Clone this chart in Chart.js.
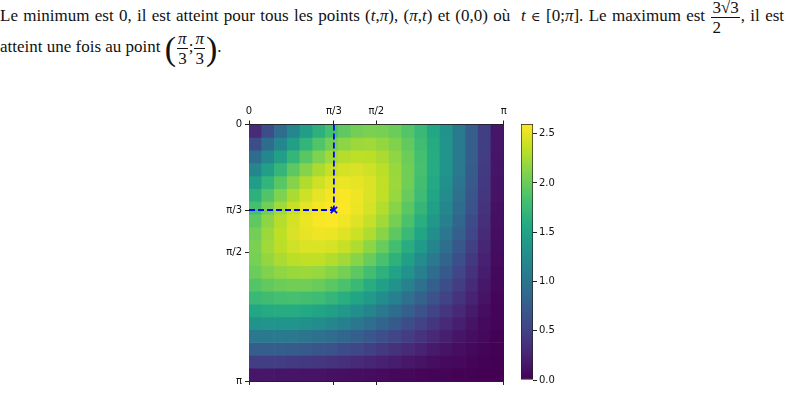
<!DOCTYPE html>
<html>
<head>
<meta charset="utf-8">
<script src="https://cdn.jsdelivr.net/npm/chart.js@4.4.1/dist/chart.umd.min.js"></script>
<style>
  body { margin: 0; background: #fff; width: 785px; height: 411px; overflow: hidden; position: relative;
         font-family: 'Liberation Serif', serif; color: #111; }
  .line { position: absolute; left: 0; font-size: 17px; line-height: 20px; }
  #l1 { top: 0px; width: 784px; text-align: justify; text-align-last: justify; word-spacing: -2px; }
  #l2 { top: 31px; white-space: nowrap; }
  .frac { display: inline-block; vertical-align: middle; text-align: center; line-height: 15px; margin: 0 1px; word-spacing: 0; }
  .frac > span { display: block; padding: 0 1px; }
  .frac > .num { border-bottom: 1px solid #111; padding-bottom: 2px; }
  .frac > .den { padding-top: 2px; }
  .sq { border-top: 1px solid #111; }
  .el { font-family: 'DejaVu Serif'; font-size: 13px; }
  .par { font-size: 34px; vertical-align: middle; font-weight: 100; }
  canvas { position: absolute; }
  #heat { left: 180px; top: 90px; }
  #cbar { left: 505px; top: 110px; }
</style>
</head>
<body>
<div class="line" id="l1">Le minimum est 0, il est atteint pour tous les points (<i>t</i>,<i>π</i>), (<i>π</i>,<i>t</i>) et (0,0) où &nbsp;<i>t</i> <span class="el">∈</span> [0;<i>π</i>]. Le maximum est <span class="frac"><span class="num">3√<span class="sq">3</span></span><span class="den">2</span></span>, il est</div>
<div class="line" id="l2">atteint une fois au point <span class="par">(</span><span class="frac"><span class="num"><i>π</i></span><span class="den">3</span></span>;<span class="frac"><span class="num"><i>π</i></span><span class="den">3</span></span><span class="par">)</span>.</div>
<canvas id="heat" width="330" height="300"></canvas>
<canvas id="cbar" width="80" height="285"></canvas>
<script>
// values of the surface, rows = y from 0 to pi, columns = x from 0 to pi
const N = 20;
const tickValues = [0, Math.PI / 3, Math.PI / 2, Math.PI];
const tickLabels = ['0', 'π/3', 'π/2', 'π'];
const cbTicks = [0, 0.5, 1, 1.5, 2, 2.5];
const zMax = 3 * Math.sqrt(3) / 2;
const maxPoint = [Math.PI / 3, Math.PI / 3];

const z = [
  [0.31,0.62,0.92,1.19,1.43,1.65,1.82,1.95,2.04,2.08,2.06,2.00,1.89,1.74,1.55,1.32,1.05,0.77,0.47,0.16],
  [0.62,0.92,1.20,1.46,1.69,1.88,2.04,2.15,2.21,2.22,2.18,2.10,1.97,1.79,1.58,1.34,1.06,0.77,0.47,0.16],
  [0.92,1.20,1.47,1.71,1.92,2.09,2.22,2.31,2.34,2.33,2.27,2.16,2.01,1.82,1.60,1.34,1.06,0.77,0.46,0.15],
  [1.19,1.46,1.71,1.94,2.12,2.27,2.38,2.43,2.45,2.41,2.33,2.20,2.03,1.83,1.59,1.33,1.05,0.75,0.45,0.15],
  [1.43,1.69,1.92,2.12,2.29,2.41,2.49,2.52,2.51,2.46,2.35,2.21,2.03,1.81,1.57,1.30,1.02,0.72,0.43,0.14],
  [1.65,1.88,2.09,2.27,2.41,2.51,2.56,2.58,2.54,2.46,2.35,2.19,1.99,1.77,1.52,1.25,0.97,0.69,0.41,0.13],
  [1.82,2.04,2.22,2.38,2.49,2.56,2.60,2.59,2.53,2.44,2.30,2.13,1.93,1.71,1.46,1.19,0.92,0.65,0.38,0.12],
  [1.95,2.15,2.31,2.43,2.52,2.58,2.59,2.55,2.48,2.37,2.23,2.05,1.85,1.62,1.38,1.12,0.86,0.60,0.35,0.11],
  [2.04,2.21,2.34,2.45,2.51,2.54,2.53,2.48,2.40,2.28,2.13,1.94,1.74,1.52,1.28,1.03,0.79,0.55,0.31,0.10],
  [2.08,2.22,2.33,2.41,2.46,2.46,2.44,2.37,2.28,2.15,1.99,1.81,1.61,1.40,1.17,0.94,0.71,0.49,0.28,0.09],
  [2.06,2.18,2.27,2.33,2.35,2.35,2.30,2.23,2.13,1.99,1.84,1.66,1.47,1.26,1.05,0.84,0.63,0.43,0.24,0.08],
  [2.00,2.10,2.16,2.20,2.21,2.19,2.13,2.05,1.94,1.81,1.66,1.49,1.31,1.12,0.92,0.73,0.54,0.37,0.21,0.06],
  [1.89,1.97,2.01,2.03,2.03,1.99,1.93,1.85,1.74,1.61,1.47,1.31,1.14,0.97,0.79,0.62,0.46,0.31,0.17,0.05],
  [1.74,1.79,1.82,1.83,1.81,1.77,1.71,1.62,1.52,1.40,1.26,1.12,0.97,0.81,0.66,0.51,0.38,0.25,0.13,0.04],
  [1.55,1.58,1.60,1.59,1.57,1.52,1.46,1.38,1.28,1.17,1.05,0.92,0.79,0.66,0.53,0.41,0.30,0.19,0.10,0.03],
  [1.32,1.34,1.34,1.33,1.30,1.25,1.19,1.12,1.03,0.94,0.84,0.73,0.62,0.51,0.41,0.31,0.22,0.14,0.07,0.02],
  [1.05,1.06,1.06,1.05,1.02,0.97,0.92,0.86,0.79,0.71,0.63,0.54,0.46,0.38,0.30,0.22,0.15,0.10,0.05,0.01],
  [0.77,0.77,0.77,0.75,0.72,0.69,0.65,0.60,0.55,0.49,0.43,0.37,0.31,0.25,0.19,0.14,0.10,0.06,0.03,0.01],
  [0.47,0.47,0.46,0.45,0.43,0.41,0.38,0.35,0.31,0.28,0.24,0.21,0.17,0.13,0.10,0.07,0.05,0.03,0.01,0.00],
  [0.16,0.16,0.15,0.15,0.14,0.13,0.12,0.11,0.10,0.09,0.08,0.06,0.05,0.04,0.03,0.02,0.01,0.01,0.00,0.00]
];

// viridis colormap
const viridisStops = ['#440154','#482475','#414487','#355f8d','#2a788e','#21918c','#22a884','#44bf70','#7ad151','#bddf26','#fde725'];

function hexRgb(h) {
  return [parseInt(h.slice(1, 3), 16), parseInt(h.slice(3, 5), 16), parseInt(h.slice(5, 7), 16)];
}

function viridis(t) {
  t = Math.max(0, Math.min(1, t));
  const p = t * (viridisStops.length - 1);
  const k = Math.min(Math.floor(p), viridisStops.length - 2);
  const f = p - k;
  const a = hexRgb(viridisStops[k]), b = hexRgb(viridisStops[k + 1]);
  const c = a.map((v, n) => Math.round(v + (b[n] - v) * f));
  return 'rgb(' + c.join(',') + ')';
}

Chart.defaults.font.family = 'DejaVu Sans';
Chart.defaults.font.size = 10;
Chart.defaults.color = '#111';

const step = Math.PI / N;
const blue = '#0000ff';

const cellSets = z.map((row, i) => ({
  type: 'bar',
  data: row.map((v, j) => ({ x: (j + 0.5) * step, y: [i * step, (i + 1) * step] })),
  backgroundColor: row.map(v => viridis(v / zMax)),
  borderWidth: 0,
  grouped: false,
  barPercentage: 1,
  categoryPercentage: 1,
  order: 2
}));

const setTicks = s => { s.ticks = tickValues.map(v => ({ value: v })); };

// heatmap
new Chart(document.getElementById('heat'), {
  type: 'bar',
  data: {
    datasets: [
      ...cellSets,
      { type: 'line', data: [{ x: maxPoint[0], y: 0 }, { x: maxPoint[0], y: maxPoint[1] }],
        borderColor: blue, borderWidth: 1.8, borderDash: [6, 3], pointRadius: 0, order: 0 },
      { type: 'line', data: [{ x: 0, y: maxPoint[1] }, { x: maxPoint[0], y: maxPoint[1] }],
        borderColor: blue, borderWidth: 1.8, borderDash: [6, 3], pointRadius: 0, order: 0 },
      { type: 'line', data: [{ x: maxPoint[0], y: maxPoint[1] }], showLine: false,
        pointStyle: 'crossRot', pointRadius: 4.5, borderColor: blue, borderWidth: 1.8, order: 0 }
    ]
  },
  options: {
    responsive: false,
    animation: false,
    devicePixelRatio: 1,
    layout: { padding: { left: 0, right: 6, top: 0, bottom: 0 } },
    plugins: { legend: { display: false }, tooltip: { enabled: false } },
    scales: {
      x: {
        type: 'linear', position: 'top', min: 0, max: Math.PI, offset: false,
        grid: { drawOnChartArea: false, tickLength: 4, color: '#222', offset: false },
        border: { display: true, color: '#222', width: 1 },
        ticks: { autoSkip: false, maxRotation: 0, padding: 3, callback: (v, i) => tickLabels[i] },
        afterBuildTicks: setTicks,
        afterFit: s => { s.height = 34.5; }
      },
      x2: {
        type: 'linear', position: 'bottom', min: 0, max: Math.PI, offset: false,
        grid: { drawOnChartArea: false, tickLength: 4, color: '#222', offset: false },
        border: { display: true, color: '#222', width: 1 },
        ticks: { display: false },
        afterBuildTicks: setTicks,
        afterFit: s => { s.height = 9; }
      },
      y: {
        type: 'linear', position: 'left', min: 0, max: Math.PI, reverse: true,
        grid: { drawOnChartArea: false, tickLength: 4, color: '#222' },
        border: { display: true, color: '#222', width: 1 },
        ticks: { autoSkip: false, padding: 3, callback: (v, i) => tickLabels[i] },
        afterBuildTicks: setTicks,
        afterFit: s => { s.width = 69; }
      },
      y2: {
        type: 'linear', position: 'right', min: 0, max: Math.PI,
        grid: { display: false },
        border: { display: true, color: '#222', width: 1 },
        ticks: { display: false },
        afterFit: s => { s.width = 0; }
      }
    }
  }
});

// colorbar
new Chart(document.getElementById('cbar'), {
  type: 'bar',
  data: {
    labels: [''],
    datasets: [{
      data: [[0, zMax]],
      backgroundColor: ctx => {
        const a = ctx.chart.chartArea;
        if (!a) return viridisStops[5];
        const g = ctx.chart.ctx.createLinearGradient(0, a.bottom, 0, a.top);
        viridisStops.forEach((c, k) => g.addColorStop(k / (viridisStops.length - 1), c));
        return g;
      },
      borderColor: '#222',
      borderWidth: 1,
      borderSkipped: false,
      barPercentage: 1,
      categoryPercentage: 1
    }]
  },
  options: {
    responsive: false,
    animation: false,
    devicePixelRatio: 1,
    layout: { padding: { left: 16, right: 0, top: 14, bottom: 15 } },
    plugins: { legend: { display: false }, tooltip: { enabled: false } },
    scales: {
      x: { display: false },
      y: {
        position: 'right', min: 0, max: zMax,
        grid: { drawOnChartArea: false, tickLength: 4, color: '#222' },
        border: { display: false },
        ticks: { padding: 2, callback: v => v.toFixed(1) },
        afterBuildTicks: s => { s.ticks = cbTicks.map(v => ({ value: v })); },
        afterFit: s => { s.width = 52; }
      }
    }
  }
});
</script>
</body>
</html>
